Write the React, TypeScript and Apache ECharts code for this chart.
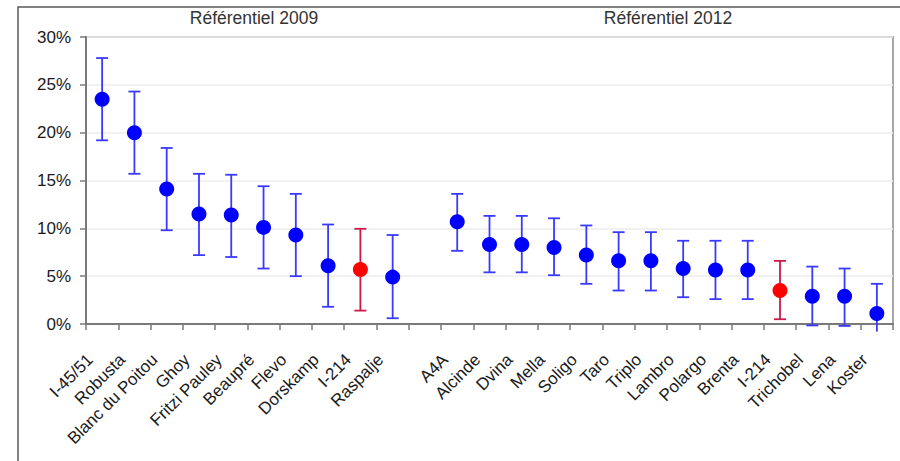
import React, { useEffect, useRef } from "react";
import * as echarts from "echarts";

const categories = [
  "I-45/51", "Robusta", "Blanc du Poitou", "Ghoy", "Fritzi Pauley", "Beaupré", "Flevo", "Dorskamp", "I-214", "Raspalje",
  "",
  "A4A", "Alcinde", "Dvina", "Mella", "Soligo", "Taro", "Triplo", "Lambro", "Polargo", "Brenta", "I-214", "Trichobel", "Lena", "Koster",
];
const means = [23.5, 20.0, 14.1, 11.5, 11.4, 10.1, 9.3, 6.1, 5.7, 4.9, null, 10.7, 8.3, 8.3, 8.0, 7.2, 6.6, 6.6, 5.8, 5.65, 5.65, 3.5, 2.9, 2.9, 1.1];
const upper = [27.8, 24.3, 18.4, 15.7, 15.6, 14.4, 13.6, 10.4, 9.95, 9.3, null, 13.6, 11.3, 11.3, 11.05, 10.3, 9.6, 9.6, 8.7, 8.7, 8.7, 6.6, 6.0, 5.8, 4.2];
const lower = [19.2, 15.7, 9.8, 7.2, 7.0, 5.8, 5.0, 1.8, 1.4, 0.6, null, 7.65, 5.4, 5.4, 5.1, 4.2, 3.5, 3.5, 2.8, 2.6, 2.6, 0.5, -0.15, -0.2, -0.8];
const yTicks = [0, 5, 10, 15, 20, 25, 30];
const groupTitles = ["Référentiel 2009", "Référentiel 2012"];
const referenceClone = "I-214";

const FONT = "'Liberation Sans', Arial, sans-serif";

export default function App() {
  const ref = useRef<HTMLDivElement>(null);
  useEffect(() => {
    if (!ref.current) return;
    const chart = echarts.init(ref.current, undefined, { renderer: "svg" });
    const isRef = (i: number) => categories[i] === referenceClone;
    const barData: any[] = [];
    categories.forEach((c, i) => {
      if (means[i] != null) barData.push([i, lower[i], upper[i]]);
    });
    const pointData = means.map((m, i) =>
      m == null ? null : { value: m, itemStyle: { color: isRef(i) ? "#ff0000" : "#0000ff", opacity: 1 } }
    );
    const yMin = yTicks[0];
    chart.setOption({
      animation: false,
      grid: {
        left: 86, right: 7, top: 37, bottom: 137,
        show: true, borderColor: "#a8a8a8", borderWidth: 2, backgroundColor: "transparent",
      },
      graphic: [
        {
          type: "rect", silent: true, z: -10,
          shape: { x: 18, y: 7, width: 1000, height: 1000 },
          style: { fill: "none", stroke: "#595959", lineWidth: 1.5 },
        },
        {
          type: "text", x: 254, y: 18,
          style: { text: groupTitles[0], font: `17.5px ${FONT}`, fill: "#333", align: "center", verticalAlign: "middle" },
        },
        {
          type: "text", x: 668, y: 18,
          style: { text: groupTitles[1], font: `17.5px ${FONT}`, fill: "#333", align: "center", verticalAlign: "middle" },
        },
      ],
      xAxis: {
        type: "category",
        data: categories,
        boundaryGap: true,
        axisLine: { show: true, lineStyle: { color: "#7a7a7a", width: 2 } },
        axisTick: { show: true, length: 6, interval: 0, lineStyle: { color: "#7a7a7a", width: 1.5 } },
        axisLabel: {
          interval: 0, rotate: 45, margin: 21, padding: [0, 17, 0, 0],
          fontSize: 17, fontFamily: FONT, color: "#1a1a1a",
        },
        splitLine: { show: false },
      },
      yAxis: {
        type: "value",
        min: yTicks[0], max: yTicks[yTicks.length - 1], interval: 5,
        axisLine: { show: true, lineStyle: { color: "#7a7a7a", width: 2 } },
        axisTick: { show: true, length: 6, lineStyle: { color: "#7a7a7a", width: 1.5 } },
        axisLabel: { formatter: "{value}%", margin: 15, fontSize: 17, fontFamily: FONT, color: "#1a1a1a" },
        splitLine: { show: true, lineStyle: { color: "#ececec", width: 1.5 } },
      },
      series: [
        {
          type: "custom",
          clip: false,
          z: 2,
          encode: { x: 0, y: [1, 2] },
          data: barData,
          renderItem: (params: any, api: any) => {
            const idx = api.value(0);
            const lo = api.value(1);
            const hi = api.value(2);
            const pLo = api.coord([idx, lo]);
            const pHi = api.coord([idx, hi]);
            const color = isRef(idx) ? "#cc1a4a" : "#3a3aff";
            const style = { stroke: color, lineWidth: 1.8 };
            const half = 6;
            const children: any[] = [
              { type: "line", shape: { x1: pLo[0], y1: pLo[1], x2: pHi[0], y2: pHi[1] }, style },
              { type: "line", shape: { x1: pHi[0] - half, y1: pHi[1], x2: pHi[0] + half, y2: pHi[1] }, style },
            ];
            if (lo >= yMin - 0.5) {
              children.push({ type: "line", shape: { x1: pLo[0] - half, y1: pLo[1], x2: pLo[0] + half, y2: pLo[1] }, style });
            }
            return { type: "group", children };
          },
        },
        {
          type: "scatter",
          z: 3,
          symbol: "circle",
          symbolSize: 15,
          itemStyle: { opacity: 1 },
          data: pointData,
        },
      ],
    });
    return () => chart.dispose();
  }, []);
  return (
    <div
      ref={ref}
      style={{ position: "fixed", left: 0, top: 0, width: 900, height: 461, background: "#fff" }}
    />
  );
}
